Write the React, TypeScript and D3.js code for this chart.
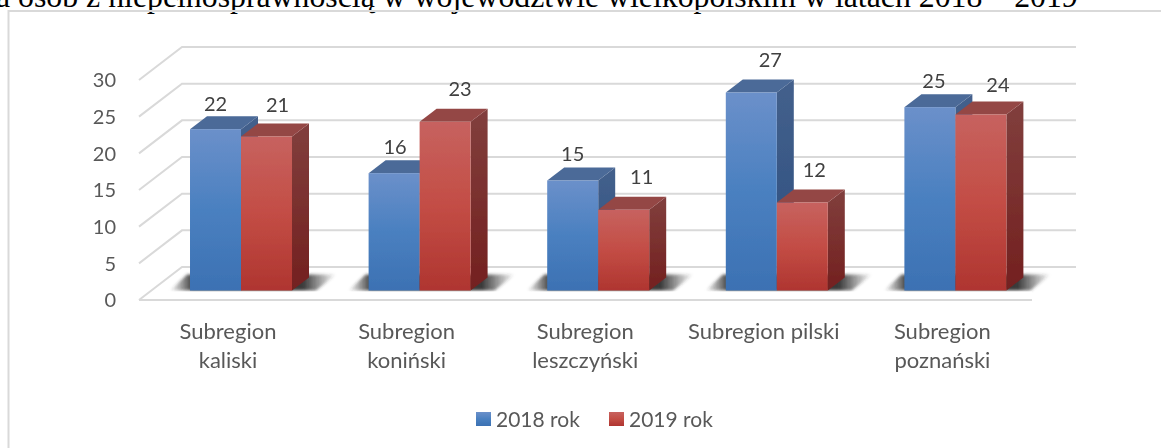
import { useEffect, useRef } from 'react';
import * as d3 from 'd3';

const categories = [
  ['Subregion', 'kaliski'],
  ['Subregion', 'koniński'],
  ['Subregion', 'leszczyński'],
  ['Subregion pilski'],
  ['Subregion', 'poznański'],
];
const seriesNames = ['2018 rok', '2019 rok'];
const values2018 = [22, 16, 15, 27, 25];
const values2019 = [21, 23, 11, 12, 24];
const yTicks = [0, 5, 10, 15, 20, 25, 30];
const titleText = 'a osób z niepełnosprawnością w województwie wielkopolskim w latach 2018 – 2019';

// data labels were dragged by hand in the original, [dx, dy] from the bar's top centre
const labelNudge2018 = [[0, -25], [1, -26], [0, -27], [19, -33], [4, -26]];
const labelNudge2019 = [[11, -32], [15, -33], [18, -33], [12, -33], [17, -30]];

const W = 1161;
const H = 448;

const colors = {
  blue: { side: ['#44608c', '#2b4f7f'], top: '#4b6a98', front: ['#6b90ca', '#4a80c0', '#3c71b3'] },
  red: { side: ['#813f3d', '#73201f'], top: '#944645', front: ['#c7625f', '#c34d45', '#af3530'] },
};

const App = () => {
  const svgRef = useRef<SVGSVGElement>(null);

  useEffect(() => {
    const svg = d3.select(svgRef.current);
    svg.selectAll('*').remove();

    const font = 'Lato, sans-serif';
    const wordSize = '22px';
    const digitSize = '20px';
    const legendSize = '21px';
    const depth = { x: 43, y: -33 }; // floor depth of the 3d box
    const barDepth = { x: 17, y: -13 };
    const baseLift = 9.5;

    const yScale = d3.scaleLinear().domain([0, 30]).range([300, 80]);

    const x0 = d3.scaleBand<number>()
      .domain(d3.range(categories.length))
      .range([151.7, 1044.7])
      .paddingInner(0.4289)
      .paddingOuter(0.2145);
    const x1 = d3.scaleBand<number>()
      .domain([0, 1])
      .range([0, x0.bandwidth()]);

    const defs = svg.append('defs');
    const addGradient = (id: string, stops: string[]) => {
      const grad = defs.append('linearGradient')
        .attr('id', id)
        .attr('x1', 0).attr('y1', 0).attr('x2', 0).attr('y2', 1);
      stops.forEach((c, i) => {
        grad.append('stop')
          .attr('offset', i / (stops.length - 1))
          .attr('stop-color', c);
      });
    };
    addGradient('blueFront', colors.blue.front);
    addGradient('blueSide', colors.blue.side);
    addGradient('redFront', colors.red.front);
    addGradient('redSide', colors.red.side);

    // shadow fades out to both sides of the group
    const shadowGrad = defs.append('linearGradient').attr('id', 'shadowFade');
    [[0, 0], [0.14, 0.95], [0.8, 0.95], [1, 0]].forEach(([o, a]) => {
      shadowGrad.append('stop')
        .attr('offset', o)
        .attr('stop-color', '#2e2e2e')
        .attr('stop-opacity', a);
    });

    defs.append('filter')
      .attr('id', 'shadowBlur')
      .attr('x', '-20%').attr('y', '-50%').attr('width', '140%').attr('height', '200%')
      .append('feGaussianBlur')
      .attr('stdDeviation', 1.6);
    defs.append('filter')
      .attr('id', 'soft')
      .append('feGaussianBlur')
      .attr('stdDeviation', 0.35);

    svg.append('rect').attr('width', W).attr('height', H).attr('fill', '#fff');

    // page text cut off above the chart
    svg.append('text')
      .attr('x', -4)
      .attr('y', 7)
      .style('font-family', '"Liberation Serif", serif')
      .style('font-size', '31.8px')
      .style('fill', '#000')
      .text(titleText);

    // chart frame, only top and left are inside the crop
    svg.append('path')
      .attr('d', `M8.5,${H}V11H${W}`)
      .attr('fill', 'none')
      .attr('stroke', '#d9d9d9')
      .attr('stroke-width', 2);

    const chart = svg.append('g').attr('filter', 'url(#soft)');

    const frontLeft = 139;
    const frontRight = 1032;
    const backRight = 1076;
    const baseY = yScale(0) - baseLift;

    // walls
    const grid = chart.append('g')
      .attr('fill', 'none')
      .attr('stroke', '#d9d9d9')
      .attr('stroke-width', 2);
    yTicks.forEach(t => {
      const y = yScale(t);
      grid.append('path')
        .attr('d', `M${frontLeft},${y}L${frontLeft + depth.x},${y + depth.y}H${backRight}`);
    });
    grid.append('line')
      .attr('x1', frontLeft).attr('x2', frontRight)
      .attr('y1', yScale(0)).attr('y2', yScale(0));

    // floor shadows under each group
    categories.forEach((_, i) => {
      const left = x0(i)!;
      const right = left + x0.bandwidth();
      chart.append('path')
        .attr('d', `M${left - 20},${baseY}L${left - 3},${baseY - 16}H${right + 44}L${right + 24},${baseY}Z`)
        .attr('fill', 'url(#shadowFade)')
        .attr('filter', 'url(#shadowBlur)');
    });

    // white strip so the shadow stops at the bar foot line
    chart.append('rect')
      .attr('x', frontLeft + 14)
      .attr('y', baseY + 1)
      .attr('width', frontRight - frontLeft - 14)
      .attr('height', 7)
      .attr('fill', '#fff');

    const drawBar = (i: number, s: number, value: number, nm: 'blue' | 'red') => {
      const x = x0(i)! + x1(s)!;
      const w = x1.bandwidth();
      const top = yScale(value) - baseLift;
      const g = chart.append('g');
      g.append('path')
        .attr('d', `M${x + w},${top}l${barDepth.x},${barDepth.y}V${baseY + barDepth.y}L${x + w},${baseY}Z`)
        .attr('fill', `url(#${nm}Side)`);
      g.append('path')
        .attr('d', `M${x},${top}l${barDepth.x},${barDepth.y}h${w}l${-barDepth.x},${-barDepth.y}Z`)
        .attr('fill', colors[nm].top);
      g.append('rect')
        .attr('x', x)
        .attr('y', top)
        .attr('width', w)
        .attr('height', baseY - top)
        .attr('fill', `url(#${nm}Front)`);
    };

    categories.forEach((_, i) => {
      drawBar(i, 0, values2018[i], 'blue');
      drawBar(i, 1, values2019[i], 'red');
    });

    // y axis labels
    chart.append('g')
      .selectAll('text')
      .data(yTicks)
      .enter()
      .append('text')
      .attr('x', 116)
      .attr('y', d => yScale(d))
      .attr('dy', '0.36em')
      .attr('text-anchor', 'end')
      .style('font-family', font)
      .style('font-size', digitSize)
      .style('fill', '#595959')
      .text(d => d);

    // data labels
    const addLabels = (vals: number[], nudge: number[][], s: number) => {
      chart.append('g')
        .selectAll('text')
        .data(vals)
        .enter()
        .append('text')
        .attr('x', (d, i) => x0(i)! + x1(s)! + x1.bandwidth() / 2 + nudge[i][0])
        .attr('y', (d, i) => yScale(d) - baseLift + nudge[i][1])
        .attr('dy', '0.36em')
        .attr('text-anchor', 'middle')
        .style('font-family', font)
        .style('font-size', digitSize)
        .style('fill', '#404040')
        .text(d => d);
    };
    addLabels(values2018, labelNudge2018, 0);
    addLabels(values2019, labelNudge2019, 1);

    // category labels
    categories.forEach((lines, i) => {
      const cx = x0(i)! + x0.bandwidth() / 2 - 13;
      lines.forEach((line, j) => {
        chart.append('text')
          .attr('x', cx)
          .attr('y', 331 + j * 29)
          .attr('dy', '0.36em')
          .attr('text-anchor', 'middle')
          .style('font-family', font)
          .style('font-size', wordSize)
          .style('fill', '#595959')
          .text(line);
      });
    });

    // legend
    const legendX = d3.scalePoint<number>().domain([0, 1]).range([476, 609]);
    seriesNames.forEach((name, i) => {
      const lx = legendX(i)!;
      chart.append('rect')
        .attr('x', lx)
        .attr('y', 412)
        .attr('width', 15)
        .attr('height', 14)
        .attr('fill', i === 0 ? 'url(#blueFront)' : 'url(#redFront)');
      chart.append('text')
        .attr('x', lx + 20)
        .attr('y', 419)
        .attr('dy', '0.36em')
        .style('font-family', font)
        .style('font-size', legendSize)
        .style('fill', '#595959')
        .text(name);
    });
  }, []);

  return (
    <svg
      ref={svgRef}
      width={W}
      height={H}
      style={{ position: 'absolute', left: 0, top: 0, display: 'block' }}
    />
  );
};

export default App;
